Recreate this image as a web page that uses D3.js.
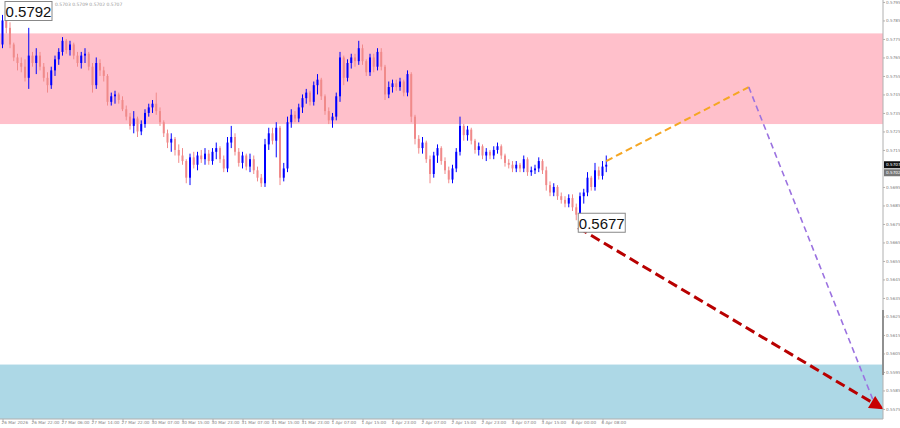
<!DOCTYPE html>
<html>
<head>
<meta charset="utf-8">
<script src="https://cdn.jsdelivr.net/npm/d3@7"></script>
<style>
  body { margin: 0; background: #fff; }
  svg { display: block; font-family: "DejaVu Sans", sans-serif; }
</style>
</head>
<body>
<svg id="chart" width="900" height="428"></svg>
<script>
// prezzi H1 (open = close precedente)
const firstOpen = 0.5772;
const closes = [
  0.5785,0.5781,0.5772,0.5765,0.5762,0.5760,0.5754,0.5766,
  0.5762,0.5766,0.5760,0.5754,0.5750,0.5758,0.5764,0.5768,
  0.5774,0.5769,0.5772,0.5766,0.5762,0.5766,0.5767,0.5760,
  0.5750,0.5762,0.5758,0.5755,0.5741,0.5744,0.5745,0.5742,
  0.5737,0.5733,0.5728,0.5732,0.5725,0.5729,0.5735,0.5738,
  0.5740,0.5736,0.5730,0.5724,0.5719,0.5721,0.5715,0.5712,
  0.5709,0.5700,0.5711,0.5707,0.5712,0.5710,0.5713,0.5709,
  0.5714,0.5716,0.5710,0.5705,0.5719,0.5722,0.5714,0.5708,
  0.5712,0.5706,0.5710,0.5704,0.5700,0.5697,0.5718,0.5724,
  0.5720,0.5727,0.5700,0.5705,0.5730,0.5734,0.5732,0.5738,
  0.5743,0.5746,0.5741,0.5750,0.5753,0.5744,0.5736,0.5731,
  0.5733,0.5744,0.5765,0.5754,0.5762,0.5765,0.5763,0.5770,
  0.5763,0.5757,0.5765,0.5760,0.5768,0.5760,0.5745,0.5749,
  0.5751,0.5749,0.5752,0.5746,0.5756,0.5733,0.5721,0.5716,
  0.5719,0.5710,0.5702,0.5712,0.5716,0.5709,0.5704,0.5699,
  0.5705,0.5714,0.5728,0.5723,0.5726,0.5720,0.5715,0.5717,
  0.5712,0.5714,0.5712,0.5715,0.5717,0.5712,0.5708,0.5707,
  0.5705,0.5707,0.5705,0.5710,0.5703,0.5704,0.5705,0.5709,
  0.5704,0.5696,0.5692,0.5695,0.5690,0.5688,0.5686,0.5689,
  0.5684,0.5680,0.5690,0.5692,0.5700,0.5695,0.5704,0.5701,
  0.5706,0.5707
];
const highs = [
  0.5788,0.5792,0.5784,0.5773,0.5767,0.5765,0.5764,0.5781,
  0.5768,0.5770,0.5768,0.5762,0.5757,0.5760,0.5766,0.5770,
  0.5776,0.5775,0.5774,0.5773,0.5768,0.5768,0.5770,0.5768,
  0.5762,0.5765,0.5764,0.5760,0.5756,0.5746,0.5747,0.5746,
  0.5744,0.5739,0.5735,0.5736,0.5733,0.5731,0.5737,0.5740,
  0.5742,0.5746,0.5738,0.5731,0.5726,0.5724,0.5722,0.5718,
  0.5716,0.5710,0.5713,0.5714,0.5714,0.5715,0.5716,0.5715,
  0.5716,0.5719,0.5717,0.5712,0.5722,0.5728,0.5724,0.5716,
  0.5714,0.5713,0.5713,0.5712,0.5706,0.5702,0.5721,0.5727,
  0.5727,0.5730,0.5728,0.5708,0.5733,0.5737,0.5736,0.5740,
  0.5745,0.5748,0.5747,0.5752,0.5756,0.5754,0.5745,0.5738,
  0.5735,0.5746,0.5768,0.5766,0.5764,0.5767,0.5767,0.5774,
  0.5772,0.5764,0.5767,0.5767,0.5770,0.5770,0.5761,0.5752,
  0.5753,0.5753,0.5754,0.5753,0.5758,0.5757,0.5734,0.5723,
  0.5722,0.5720,0.5712,0.5714,0.5718,0.5717,0.5711,0.5706,
  0.5707,0.5716,0.5733,0.5729,0.5728,0.5727,0.5721,0.5719,
  0.5718,0.5716,0.5715,0.5717,0.5719,0.5718,0.5713,0.5710,
  0.5709,0.5709,0.5708,0.5712,0.5711,0.5706,0.5707,0.5711,
  0.5710,0.5706,0.5698,0.5697,0.5696,0.5692,0.5690,0.5691,
  0.5691,0.5686,0.5692,0.5694,0.5703,0.5701,0.5708,0.5706,
  0.5709,0.5712
];
const lows = [
  0.5770,0.5778,0.5770,0.5763,0.5758,0.5757,0.5752,0.5748,
  0.5760,0.5756,0.5758,0.5752,0.5746,0.5748,0.5755,0.5761,
  0.5766,0.5767,0.5766,0.5764,0.5760,0.5759,0.5762,0.5758,
  0.5746,0.5748,0.5755,0.5752,0.5739,0.5739,0.5740,0.5740,
  0.5736,0.5731,0.5726,0.5724,0.5722,0.5723,0.5727,0.5733,
  0.5735,0.5734,0.5728,0.5722,0.5716,0.5714,0.5712,0.5708,
  0.5707,0.5697,0.5696,0.5705,0.5704,0.5708,0.5707,0.5707,
  0.5707,0.5710,0.5708,0.5703,0.5703,0.5716,0.5712,0.5706,
  0.5705,0.5704,0.5703,0.5702,0.5698,0.5695,0.5695,0.5715,
  0.5718,0.5711,0.5696,0.5698,0.5703,0.5727,0.5730,0.5730,
  0.5735,0.5740,0.5739,0.5739,0.5745,0.5742,0.5734,0.5729,
  0.5727,0.5731,0.5741,0.5750,0.5752,0.5759,0.5760,0.5761,
  0.5761,0.5755,0.5755,0.5757,0.5758,0.5758,0.5742,0.5743,
  0.5746,0.5747,0.5747,0.5744,0.5744,0.5730,0.5718,0.5713,
  0.5713,0.5708,0.5697,0.5700,0.5708,0.5707,0.5702,0.5697,
  0.5697,0.5703,0.5712,0.5720,0.5720,0.5718,0.5713,0.5712,
  0.5710,0.5709,0.5710,0.5710,0.5713,0.5710,0.5706,0.5705,
  0.5703,0.5703,0.5703,0.5703,0.5701,0.5701,0.5702,0.5703,
  0.5702,0.5693,0.5690,0.5690,0.5688,0.5686,0.5684,0.5684,
  0.5682,0.5677,0.5679,0.5686,0.5690,0.5693,0.5693,0.5699,
  0.5699,0.5703
];

const timeLabels = [
  "26 Mar 2026","26 Mar 22:00","27 Mar 06:00","27 Mar 14:00","27 Mar 22:00",
  "30 Mar 07:00","30 Mar 15:00","30 Mar 23:00","31 Mar 07:00","31 Mar 15:00",
  "31 Mar 23:00","1 Apr 07:00","1 Apr 15:00","1 Apr 23:00","2 Apr 07:00",
  "2 Apr 15:00","2 Apr 23:00","3 Apr 07:00","3 Apr 15:00","6 Apr 00:00","6 Apr 08:00"
];
const priceTicks = d3.range(0, 23).map(k => +(0.5575 + k * 0.001).toFixed(4));

// zone
const sellZone = [0.5778, 0.5729];
const buyZone = [0.5599, 0.5569];

// scenari (indice candela, prezzo)
const mainWaveIdx = [161, 199, 232.5];
const mainWavePrice = [0.5709, 0.5749, 0.5578];
const altWaveIdx = [153.5, 234];
const altWavePrice = [0.5673, 0.5576];

const extremes = [
  { idx: 1, price: 0.5792, text: "0.5792" },
  { idx: 153, price: 0.5677, text: "0.5677" }
];
const bidPrice = 0.5707;
const askLabel = "0.5702";
const header = "0.5703 0.5709 0.5702 0.5707";

const plotRight = 883, plotBottom = 419;

const svg = d3.select("#chart");

const x = d3.scaleLinear().domain([0, 1]).range([2.5, 6.25]);
const y = d3.scaleLinear().domain([0.5792, 0.5677]).range([7.5, 220.25]);

const candles = closes.map((c, i) => ({
  i,
  o: i === 0 ? firstOpen : closes[i - 1],
  h: highs[i], l: lows[i], c
}));

const defs = svg.append("defs");
defs.append("clipPath").attr("id", "plotClip")
  .append("rect").attr("x", 0).attr("y", 0).attr("width", plotRight).attr("height", plotBottom);
defs.append("marker")
  .attr("id", "redHead")
  .attr("viewBox", "0 0 10 10")
  .attr("refX", 7).attr("refY", 5)
  .attr("markerWidth", 18).attr("markerHeight", 14)
  .attr("orient", "auto")
  .attr("markerUnits", "userSpaceOnUse")
  .append("path").attr("d", "M0,0 L10,5 L0,10 z").attr("fill", "#c80000");

const plot = svg.append("g").attr("clip-path", "url(#plotClip)");

// zone colorate
plot.append("rect")
  .attr("x", 0).attr("width", plotRight)
  .attr("y", y(sellZone[0])).attr("height", y(sellZone[1]) - y(sellZone[0]))
  .attr("fill", "#ffc0cb");
plot.append("rect")
  .attr("x", 0).attr("width", plotRight)
  .attr("y", y(buyZone[0])).attr("height", y(buyZone[1]) - y(buyZone[0]))
  .attr("fill", "#add8e6");

// candele
const cg = plot.selectAll("g.candle").data(candles).enter()
  .append("g").attr("class", "candle");
cg.append("line")
  .attr("x1", d => x(d.i)).attr("x2", d => x(d.i))
  .attr("y1", d => y(d.h)).attr("y2", d => y(d.l))
  .attr("stroke", d => d.c >= d.o ? "#0000ff" : "#f08a8a")
  .attr("stroke-width", 1);
cg.append("rect")
  .attr("x", d => x(d.i) - 1)
  .attr("width", 2)
  .attr("y", d => y(Math.max(d.o, d.c)))
  .attr("height", d => Math.max(1, Math.abs(y(d.o) - y(d.c))))
  .attr("fill", d => d.c >= d.o ? "#0000ff" : "#f08a8a");

// onde previste
plot.append("line")
  .attr("x1", x(mainWaveIdx[0])).attr("y1", y(mainWavePrice[0]))
  .attr("x2", x(mainWaveIdx[1])).attr("y2", y(mainWavePrice[1]))
  .attr("stroke", "#f5a623").attr("stroke-width", 2)
  .attr("stroke-dasharray", "7,4");
plot.append("line")
  .attr("x1", x(mainWaveIdx[1])).attr("y1", y(mainWavePrice[1]))
  .attr("x2", x(mainWaveIdx[2])).attr("y2", y(mainWavePrice[2]))
  .attr("stroke", "#9b72e0").attr("stroke-width", 1.6)
  .attr("stroke-dasharray", "6,4");
svg.append("line")
  .attr("x1", x(altWaveIdx[0])).attr("y1", y(altWavePrice[0]))
  .attr("x2", x(altWaveIdx[1])).attr("y2", y(altWavePrice[1]))
  .attr("stroke", "#b80000").attr("stroke-width", 3)
  .attr("stroke-dasharray", "10,5")
  .attr("marker-end", "url(#redHead)");

// assi
const xAxis = d3.axisBottom(x)
  .tickValues(timeLabels.map((_, k) => k * 8))
  .tickFormat((d, k) => timeLabels[k])
  .tickSize(3).tickSizeOuter(0);
const gx = svg.append("g").attr("transform", `translate(0,${plotBottom})`).call(xAxis);
gx.select(".domain").attr("d", `M0,0H${plotRight}`).attr("stroke", "#b0b0b0");
gx.selectAll(".tick line").attr("stroke", "#b0b0b0");
gx.selectAll(".tick text")
  .attr("text-anchor", "start").attr("x", -1.5).attr("y", 2.5).attr("dy", "0.7em")
  .attr("font-size", "4.2px").attr("fill", "#808080").attr("font-family", "DejaVu Sans");

const yAxis = d3.axisRight(y)
  .tickValues(priceTicks)
  .tickFormat(d3.format(".4f"))
  .tickSize(2).tickSizeOuter(0);
const gy = svg.append("g").attr("transform", `translate(${plotRight},0)`).call(yAxis);
gy.select(".domain").attr("d", `M0,0V${plotBottom}`).attr("stroke", "#b0b0b0");
gy.selectAll(".tick line").attr("stroke", "#b0b0b0");
gy.selectAll(".tick text")
  .attr("x", 3)
  .attr("font-size", "4.2px").attr("fill", "#808080").attr("font-family", "DejaVu Sans");
gy.selectAll(".tick").filter(d => Math.abs(d - 0.5705) < 1e-6).remove();

// barra grigia sull'asse
svg.append("line")
  .attr("x1", plotRight).attr("x2", plotRight)
  .attr("y1", 310).attr("y2", 375)
  .attr("stroke", "#909090").attr("stroke-width", 2);

// etichette prezzo corrente
const bidY = y(bidPrice);
svg.append("rect").attr("x", plotRight + 1).attr("y", bidY - 3.5).attr("width", 16).attr("height", 7).attr("fill", "#111");
svg.append("text").attr("x", plotRight + 3).attr("y", bidY).attr("dy", "0.35em")
  .attr("font-size", "4.2px").attr("fill", "#fff").text(bidPrice.toFixed(4));
svg.append("rect").attr("x", plotRight + 1).attr("y", bidY + 4.5).attr("width", 16).attr("height", 7).attr("fill", "#777");
svg.append("text").attr("x", plotRight + 3).attr("y", bidY + 8).attr("dy", "0.35em")
  .attr("font-size", "4.2px").attr("fill", "#fff").text(askLabel);

// intestazione
svg.append("text").attr("x", 55).attr("y", 5.5)
  .attr("font-size", "4.5px").attr("fill", "#999").text(header);

// etichette estremi
extremes.forEach((e, k) => {
  const bx = k === 0 ? 5 : x(e.idx) + 2;
  const by = k === 0 ? 1.5 : y(e.price) - 7;
  svg.append("rect").attr("x", bx).attr("y", by).attr("width", 47).attr("height", 19)
    .attr("fill", "#fff").attr("stroke", "#888").attr("stroke-width", 1);
  svg.append("text").attr("x", bx + 23.5).attr("y", by + 10).attr("dy", "0.36em")
    .attr("text-anchor", "middle").attr("font-size", "15px").attr("fill", "#111")
    .attr("font-family", "Liberation Sans, Arial, sans-serif")
    .text(e.text);
});
</script>
</body>
</html>
